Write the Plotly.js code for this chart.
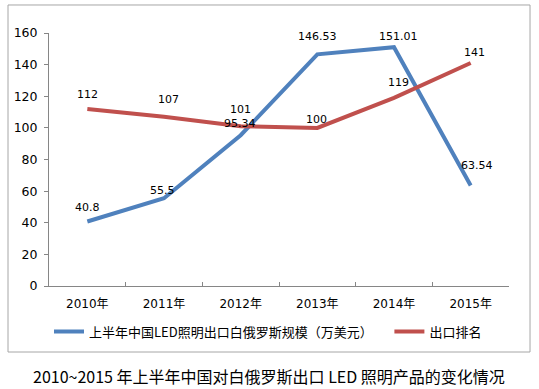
<!DOCTYPE html>
<html>
<head>
<meta charset="utf-8">
<script src="https://cdn.plot.ly/plotly-3.0.1.min.js"></script>
<style>html,body{margin:0;padding:0;background:#fff;}#chart{width:539px;height:389px;}</style>
</head>
<body>
<div id="chart"></div>
<script>
var categories = ['2010年', '2011年', '2012年', '2013年', '2014年', '2015年'];
var exportScale = [40.8, 55.5, 95.34, 146.53, 151.01, 63.54];
var exportScaleLabels = ['40.8', '55.5', '95.34', '146.53', '151.01', '63.54'];
var exportRank = [112, 107, 101, 100, 119, 141];
var exportRankLabels = ['112', '107', '101', '100', '119', '141'];
var seriesNames = ['上半年中国LED照明出口白俄罗斯规模（万美元）', '出口排名'];
var yTicks = [0, 20, 40, 60, 80, 100, 120, 140, 160];
var chartTitle = '2010~2015 年上半年中国对白俄罗斯出口 LED 照明产品的变化情况';

// label nudges in pixels (styling only)
var scaleLabelDy = [14, 8, 12, 18, 11, 20];
var scaleLabelDx = [0, -2, -1, 0, 4, 6];
var rankLabelDy = [14, 17, 17, 8, 15, 11];
var rankLabelDx = [0, 4, 0, -1, 4, 4];

var blue = '#4F81BD', red = '#C0504D';
var latin = 'DejaVu Sans, Noto Sans CJK SC, sans-serif';
var cjk = 'Noto Sans CJK SC, sans-serif';

var traces = [
  {type: 'scatter', mode: 'lines', x: categories, y: exportScale, name: seriesNames[0],
   line: {color: blue, width: 4}, legend: 'legend', hoverinfo: 'skip'},
  {type: 'scatter', mode: 'lines', x: categories, y: exportRank, name: seriesNames[1],
   line: {color: red, width: 4}, legend: 'legend2', hoverinfo: 'skip'}
];

var annotations = [];
categories.forEach(function (c, i) {
  annotations.push({x: c, y: exportScale[i], text: exportScaleLabels[i], showarrow: false,
    yshift: scaleLabelDy[i], xshift: scaleLabelDx[i], font: {family: latin, size: 11, color: '#000'}});
  annotations.push({x: c, y: exportRank[i], text: exportRankLabels[i], showarrow: false,
    yshift: rankLabelDy[i], xshift: rankLabelDx[i], font: {family: latin, size: 11, color: '#000'}});
});

var layout = {
  width: 539, height: 389,
  margin: {l: 49, r: 30, t: 33, b: 103},
  paper_bgcolor: '#fff', plot_bgcolor: '#fff',
  showlegend: true,
  title: {text: chartTitle, font: {family: cjk, size: 16, color: '#000'},
          xref: 'container', x: 0.499, xanchor: 'center',
          yref: 'container', y: 0.031, yanchor: 'middle'},
  xaxis: {type: 'category', range: [-0.5, 5.5], showgrid: false, zeroline: false,
          showline: true, linecolor: '#868686', linewidth: 1,
          ticks: 'inside', tickson: 'boundaries', ticklen: 4, tickcolor: '#868686',
          tickfont: {family: latin, size: 12, color: '#000'}, ticklabelstandoff: 7,
          fixedrange: true},
  yaxis: {range: [0, 160], tickvals: yTicks, showgrid: false, zeroline: false,
          showline: true, linecolor: '#868686', linewidth: 1,
          ticks: 'outside', ticklen: 4, tickcolor: '#868686',
          tickfont: {family: latin, size: 12.5, color: '#000'}, ticklabelstandoff: 4,
          fixedrange: true},
  legend: {orientation: 'h', x: 0.0, xanchor: 'left', y: -0.18, yanchor: 'middle',
           font: {family: cjk, size: 13, color: '#000'}, bgcolor: 'rgba(0,0,0,0)'},
  legend2: {orientation: 'h', x: 0.74, xanchor: 'left', y: -0.18, yanchor: 'middle',
           font: {family: cjk, size: 13, color: '#000'}, bgcolor: 'rgba(0,0,0,0)'},
  annotations: annotations,
  shapes: [{type: 'rect', xref: 'paper', yref: 'paper',
            x0: -0.0891, x1: 1.0457, y0: -0.2609, y1: 1.1107,
            line: {color: '#a6a6a6', width: 1}, fillcolor: 'rgba(0,0,0,0)', layer: 'below'}]
};

Plotly.newPlot('chart', traces, layout, {displayModeBar: false, staticPlot: true});
</script>
</body>
</html>
